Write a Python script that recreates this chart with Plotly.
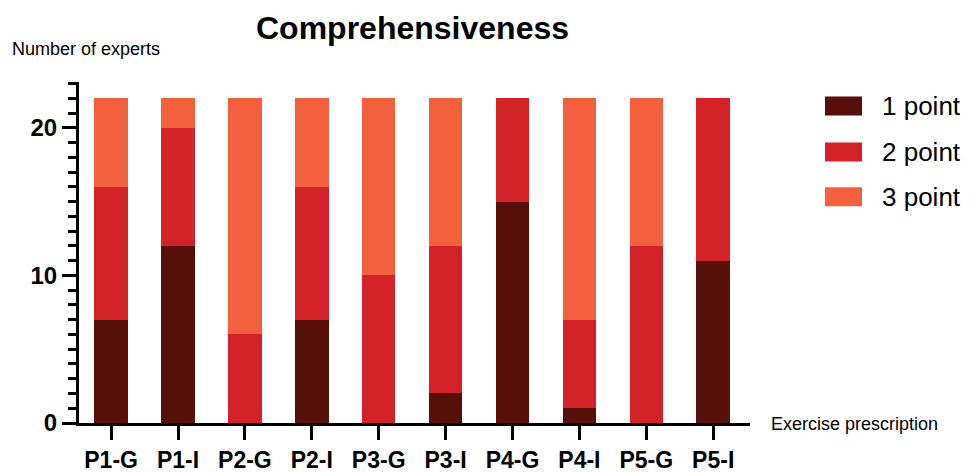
import plotly.graph_objects as go

categories = ["P1-G", "P1-I", "P2-G", "P2-I", "P3-G", "P3-I", "P4-G", "P4-I", "P5-G", "P5-I"]
one_point = [7, 12, 0, 7, 0, 2, 15, 1, 0, 11]
two_point = [9, 8, 6, 9, 10, 10, 7, 6, 12, 11]
three_point = [6, 2, 16, 6, 12, 10, 0, 15, 10, 0]
series_names = ["1 point", "2 point", "3 point"]
series_values = [one_point, two_point, three_point]
colors = ["#560F09", "#D42328", "#F2603E"]

W, H = 974, 472
L, R, T, B = 79, 224, 82, 48.5
pw, ph = W - L - R, H - T - B

def px_x(x):
    return (x - L) / pw

def px_y(y):
    return (H - B - y) / ph

fig = go.Figure()
for name, vals, c in zip(series_names, series_values, colors):
    fig.add_trace(go.Bar(x=categories, y=vals, name=name, marker=dict(color=c, line=dict(width=0)),
                         showlegend=False))

font = "Liberation Sans, Arial, sans-serif"
fig.update_layout(
    barmode="stack",
    bargap=0.5,
    width=W, height=H,
    margin=dict(l=L, r=R, t=T, b=B, autoexpand=False),
    plot_bgcolor="white", paper_bgcolor="white",
    font=dict(family=font, color="black"),
    xaxis=dict(range=[-0.48, 9.55], showline=True, linewidth=3, linecolor="black", automargin=False,
               ticks="outside", ticklen=14, tickwidth=3, tickcolor="black", ticklabelstandoff=0,
               tickfont=dict(size=23, family=font, weight="bold"), showgrid=False, zeroline=False),
    yaxis=dict(range=[0, 23.1], showline=True, linewidth=3, linecolor="black", automargin=False,
               ticks="outside", ticklen=14, tickwidth=3, tickcolor="black", dtick=10,
               tickfont=dict(size=24, family=font, weight="bold"), showgrid=False, zeroline=False,
               minor=dict(dtick=1, ticks="outside", ticklen=8, tickwidth=3, tickcolor="black", showgrid=False)),
)

fig.add_annotation(text="<b>Comprehensiveness</b>", xref="paper", yref="paper",
                   x=px_x(412), y=px_y(28), xanchor="center", yanchor="middle",
                   showarrow=False, font=dict(size=32, family=font))
fig.add_annotation(text="Number of experts", xref="paper", yref="paper",
                   x=px_x(10), y=px_y(49), xanchor="left", yanchor="middle",
                   showarrow=False, font=dict(size=18, family=font))
fig.add_annotation(text="Exercise prescription", xref="paper", yref="paper",
                   x=px_x(769), y=px_y(425), xanchor="left", yanchor="middle",
                   showarrow=False, font=dict(size=18, family=font))

legend_y = [106, 152, 197]
for name, c, yc in zip(series_names, colors, legend_y):
    fig.add_shape(type="rect", xref="paper", yref="paper",
                  x0=px_x(825), x1=px_x(862), y0=px_y(yc + 9.5), y1=px_y(yc - 9.5),
                  fillcolor=c, line=dict(width=0))
    fig.add_annotation(text=name, xref="paper", yref="paper", x=px_x(880), y=px_y(yc),
                       xanchor="left", yanchor="middle", showarrow=False,
                       font=dict(size=26, family=font))

fig.write_html("out.html", config={"displayModeBar": False},
               post_script="document.body.style.margin='0';document.body.style.overflow='hidden';")
